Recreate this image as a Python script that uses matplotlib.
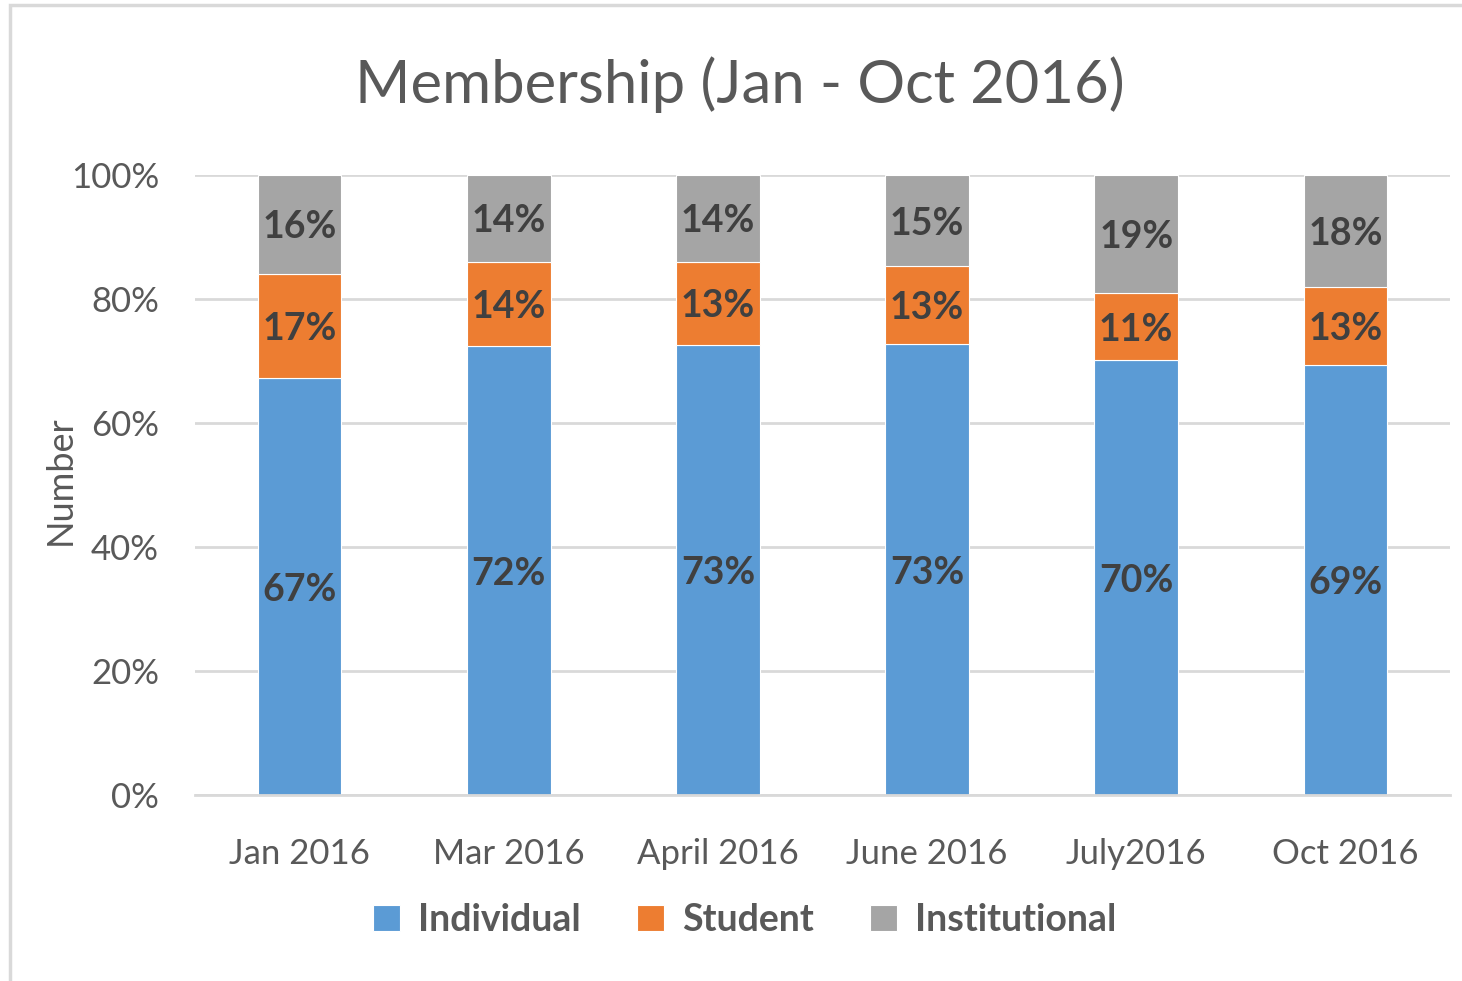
import matplotlib
matplotlib.use("Agg")
import matplotlib.pyplot as plt
from matplotlib.patches import Rectangle
import numpy as np

# data (percent of members per month)
months = ['Jan 2016', 'Mar 2016', 'April 2016', 'June 2016', 'July2016', 'Oct 2016']
individual = [67.2, 72.4, 72.6, 72.7, 70.1, 69.3]
student = [16.9, 13.6, 13.4, 12.6, 10.9, 12.7]
institutional = [15.9, 14.0, 14.0, 14.7, 19.0, 18.0]

series = [('Individual', individual, '#5B9BD5'),
          ('Student', student, '#ED7D31'),
          ('Institutional', institutional, '#A5A5A5')]

plt.rcParams['font.family'] = ['Lato', 'DejaVu Sans']

fig = plt.figure(figsize=(14.62, 9.81), dpi=100)
ax = fig.add_axes([195 / 1462, 1 - 795 / 981, 1255 / 1462, 620 / 981])

x = np.arange(len(months))
bottom = np.zeros(len(months))
for name, vals, color in series:
    vals = np.array(vals)
    ax.bar(x, vals, 0.4, bottom=bottom, color=color, label=name,
           edgecolor='white', linewidth=0.8, zorder=3)
    for xi, b, v in zip(x, bottom, vals):
        ax.text(xi, b + v / 2, f'{round(v):d}%', ha='center', va='center_baseline',
                fontsize=27, fontweight='bold', color='#404040', zorder=4)
    bottom += vals

ax.set_xlim(-0.5, len(months) - 0.5)
ax.set_ylim(0, 100)
ax.set_yticks([0, 20, 40, 60, 80, 100])
ax.set_yticklabels([f'{t}%' for t in [0, 20, 40, 60, 80, 100]])
ax.set_xticks(x)
ax.set_xticklabels(months)
ax.tick_params(axis='both', length=0, labelsize=25, labelcolor='#595959')
ax.tick_params(axis='y', pad=26)
ax.tick_params(axis='x', pad=31)
ax.grid(axis='y', color='#D9D9D9', linewidth=2, zorder=0)
for s in ['top', 'right', 'left']:
    ax.spines[s].set_visible(False)
ax.spines['bottom'].set_color('#D9D9D9')
ax.spines['bottom'].set_linewidth(2)
ax.spines['bottom'].set_zorder(5)

fig.text(60 / 1462, 1 - 480 / 981, 'Number', rotation=90, ha='center', va='center',
         fontsize=26, color='#595959')
fig.text(740 / 1462, 1 - 85 / 981, 'Membership (Jan - Oct 2016)', ha='center', va='center',
         fontsize=43, color='#595959')

leg = fig.legend(loc='center', bbox_to_anchor=(745 / 1462, 1 - 920 / 981), ncol=3,
                 frameon=False, handlelength=0.7, handleheight=0.7, handletextpad=0.5,
                 columnspacing=1.5, prop={'size': 27, 'weight': 'bold'})
for t in leg.get_texts():
    t.set_color('#595959')

# outer chart frame (cropped on right and bottom)
fig.patches.append(Rectangle((10 / 1462, -0.05), 1.1, 1 - 5 / 981 + 0.05,
                             transform=fig.transFigure, fill=False,
                             edgecolor='#D9D9D9', linewidth=2.5))

fig.savefig('out.png', dpi=100)
